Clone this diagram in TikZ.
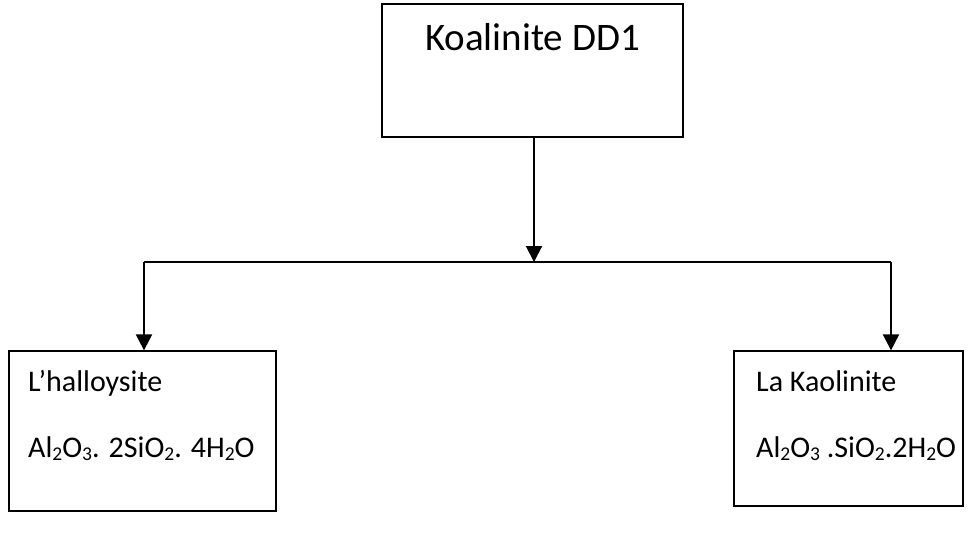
\documentclass[tikz,border=0pt]{standalone}
\usepackage{fontspec}
\setmainfont{Carlito}
\usetikzlibrary{arrows.meta}
\newcommand{\chemsb}[1]{\raisebox{-0.12em}{\fontsize{19.5}{19.5}\selectfont #1}}
\begin{document}
\begin{tikzpicture}[x=1pt,y=-1pt,
  box/.style={draw, line width=1.3pt, inner sep=0pt},
  conn/.style={line width=2pt},
  arr/.style={line width=2pt, -{Triangle[width=16pt,length=16pt]}},
  small/.style={font=\fontsize{30}{35}\selectfont, inner sep=0pt, anchor=base west},
]
\useasboundingbox (0,0) rectangle (968,533);
\node[box, line width=2.2pt, minimum width=301pt, minimum height=133pt] (top) at (532.5,70.5) {};
\node[box, minimum width=267pt, minimum height=160pt] (lbox) at (142.5,431) {};
\node[box, minimum width=229pt, minimum height=155pt] (rbox) at (848.5,428.5) {};
\node[font=\fontsize{39}{44}\selectfont, inner sep=0pt, anchor=base] (title) at (532.5,50) {Koalinite DD1};
\node[small] (lname) at (28,391) {L’halloysite};
\node[small] (lform) at (28,457) {Al\chemsb{2}O\chemsb{3}. 2SiO\chemsb{2}. 4H\chemsb{2}O};
\node[small] (rname) at (756,391) {La Kaolinite};
\node[small] (rform) at (756,457) {Al\chemsb{2}O\chemsb{3} .SiO\chemsb{2}.2H\chemsb{2}O};
\coordinate (j) at (534,262);
\coordinate (lc) at (144,262);
\coordinate (rc) at (891,262);
\draw[arr] (top.south -| j) -- (j);
\draw[conn] (lc) -- (rc);
\draw[arr] (lc) -- (lc |- lbox.north);
\draw[arr] (rc) -- (rc |- rbox.north);
\end{tikzpicture}
\end{document}
